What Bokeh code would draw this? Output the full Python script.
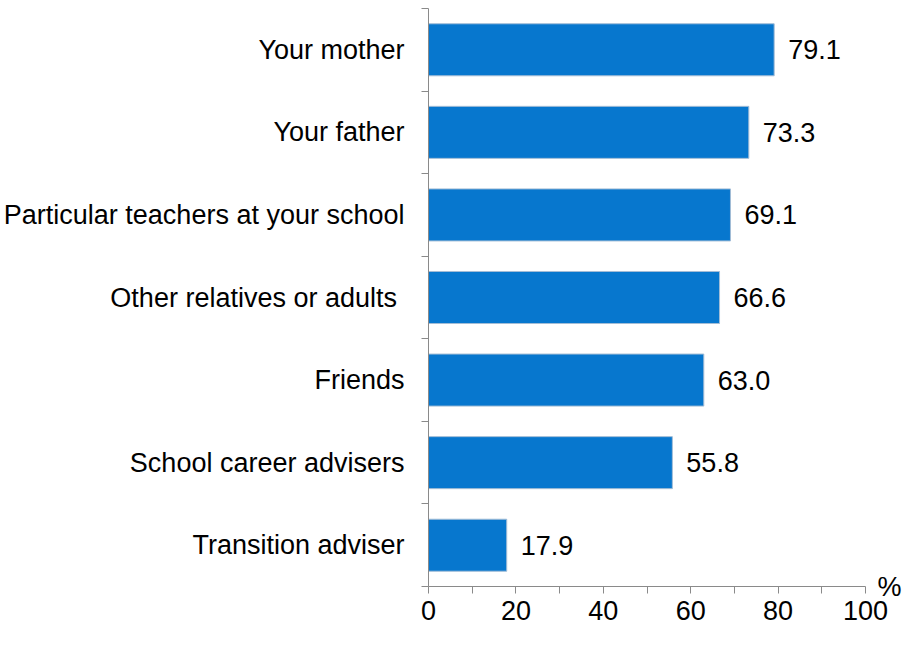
from bokeh.plotting import figure
from bokeh.models import FixedTicker, ColumnDataSource, Range1d, LinearAxis
from bokeh.core.properties import value
from bokeh.embed import file_html
from bokeh.resources import INLINE

categories = ["Your mother", "Your father", "Particular teachers at your school",
              "Other relatives or adults\u00a0", "Friends", "School career advisers",
              "Transition adviser"]
values = [79.1, 73.3, 69.1, 66.6, 63.0, 55.8, 17.9]
x_ticks = [0, 20, 40, 60, 80, 100]
x_minor = [10, 30, 50, 70, 90]
unit_label = "%"

n = len(categories)
ypos = [n - 0.5 - i for i in range(n)]
labels = [f"{v:.1f}" for v in values]

src = ColumnDataSource(dict(y=ypos, v=values, lab=labels))

FONT = "Liberation Sans"
FS = "27px"
AX = "#8a8a8a"
TXT = "#000000"

p = figure(width=904, height=634, output_backend="svg", toolbar_location=None,
           x_range=Range1d(0, 100), y_range=Range1d(0, n),
           min_border_left=428, min_border_right=0, min_border_top=8,
           min_border_bottom=48)
p.outline_line_color = None
p.grid.visible = False

p.hbar(y="y", right="v", left=0, height=0.63, source=src,
       fill_color="#0777CE", line_color="#a3bdd6", line_width=1)

p.text(x="v", y="y", text="lab", source=src, x_offset=14,
       text_baseline="middle", text_align="left",
       text_font=value(FONT), text_font_size=FS, text_color=TXT)

# x axis
xa = p.xaxis[0]
xa.ticker = FixedTicker(ticks=x_ticks, minor_ticks=x_minor)
xa.axis_line_color = AX
xa.major_tick_line_color = AX
xa.minor_tick_line_color = AX
xa.major_tick_out = 7
xa.major_tick_in = 0
xa.minor_tick_out = 7
xa.minor_tick_in = 0
xa.major_label_text_font = FONT
xa.major_label_text_font_size = FS
xa.major_label_text_color = TXT
xa.major_label_standoff = 7

# y axis: labels at centers, ticks at boundaries
ya = p.yaxis[0]
ya.ticker = FixedTicker(ticks=ypos, minor_ticks=list(range(n + 1)))
ya.major_label_overrides = {y: c for y, c in zip(ypos, categories)}
ya.axis_line_color = AX
ya.major_tick_line_color = None
ya.major_tick_out = 7
ya.major_tick_in = 0
ya.minor_tick_line_color = AX
ya.minor_tick_out = 7
ya.minor_tick_in = 0
ya.major_label_text_font = FONT
ya.major_label_text_font_size = FS
ya.major_label_text_color = TXT
ya.major_label_standoff = 17

# unit label "%" at the end of the x axis, via an invisible right axis
ra = LinearAxis(ticker=FixedTicker(ticks=[0], minor_ticks=[]),
                major_label_overrides={0: unit_label})
ra.axis_line_color = None
ra.major_tick_line_color = None
ra.minor_tick_line_color = None
ra.major_tick_out = 0
ra.major_tick_in = 0
ra.major_label_standoff = 12
ra.major_label_text_font = FONT
ra.major_label_text_font_size = FS
ra.major_label_text_color = TXT
p.add_layout(ra, "right")

open("out.html", "w").write(file_html(p, INLINE))
